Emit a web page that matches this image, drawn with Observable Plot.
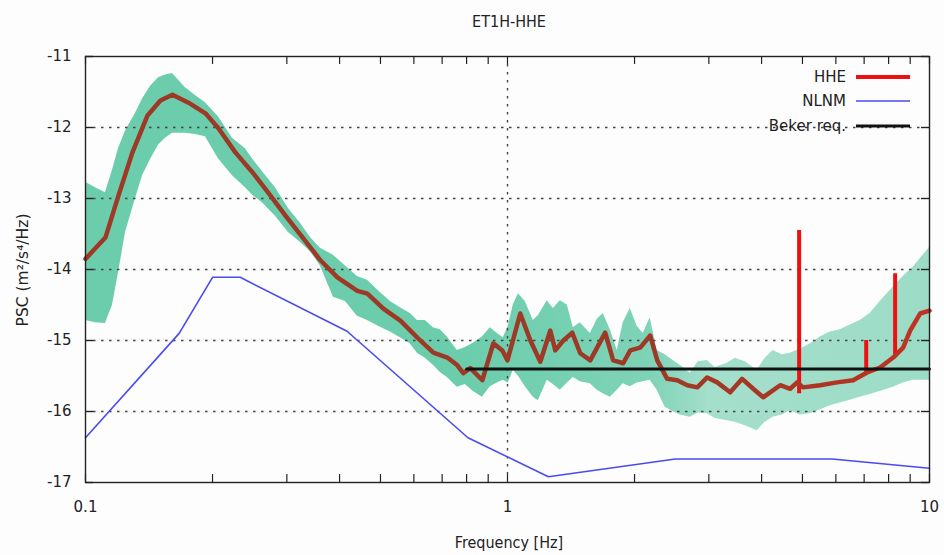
<!DOCTYPE html>
<html>
<head>
<meta charset="utf-8">
<script src="https://cdn.jsdelivr.net/npm/d3@7"></script>
<script src="https://cdn.jsdelivr.net/npm/@observablehq/plot@0.6"></script>
<style>
  html, body { margin: 0; padding: 0; background: #fdfdfd; }
  #chart { width: 944px; height: 555px; }
</style>
</head>
<body>
<div id="chart"></div>
<script>
// ---------- data ----------
const titleText = "ET1H-HHE";
const xLabel = "Frequency [Hz]";
const yLabel = "PSC (m²/s⁴/Hz)";
const yTicks = [-11, -12, -13, -14, -15, -16, -17];
const yGrid = [-12, -13, -14, -15, -16];
const xTicks = [0.1, 1, 10];
const xMinor = [0.2, 0.3, 0.4, 0.5, 0.6, 0.7, 0.8, 0.9, 2, 3, 4, 5, 6, 7, 8, 9];
const xGrid = [1];

// HHE median (brown)
const hheFreq = [0.100, 0.1115, 0.1197, 0.1292, 0.1403, 0.1505, 0.1607, 0.1754, 0.1924, 0.2065,
  0.2265, 0.2485, 0.2713, 0.2977, 0.3320, 0.3603, 0.3953, 0.4407, 0.4655, 0.5079,
  0.5573, 0.6114, 0.6673, 0.7202, 0.7606, 0.7856, 0.8164, 0.8716, 0.9256, 0.9721,
  1.000, 1.072, 1.133, 1.196, 1.263, 1.298, 1.356, 1.424, 1.487, 1.571,
  1.704, 1.780, 1.880, 1.954, 2.063, 2.179, 2.264, 2.390, 2.524, 2.667,
  2.817, 2.973, 3.140, 3.371, 3.598, 3.821, 4.035, 4.428, 4.676, 4.858,
  5.018, 5.506, 6.040, 6.592, 7.116, 7.638, 8.203, 8.660, 8.998, 9.500, 10.0];
const hheValue = [-13.85, -13.55, -12.96, -12.35, -11.83, -11.62, -11.54, -11.65, -11.80, -12.01,
  -12.35, -12.63, -12.92, -13.24, -13.60, -13.87, -14.11, -14.30, -14.34, -14.55,
  -14.72, -14.96, -15.17, -15.24, -15.35, -15.46, -15.39, -15.56, -15.04, -15.14,
  -15.28, -14.62, -15.00, -15.30, -14.86, -15.14, -15.00, -14.89, -15.18, -15.28,
  -14.89, -15.28, -15.32, -15.14, -15.10, -14.93, -15.28, -15.54, -15.56, -15.63,
  -15.66, -15.52, -15.59, -15.73, -15.54, -15.68, -15.80, -15.63, -15.68, -15.59,
  -15.66, -15.63, -15.59, -15.56, -15.45, -15.38, -15.24, -15.10, -14.86, -14.62, -14.58];

// HHE narrow peaks (red)
const spikeFreq = [4.91, 7.08, 8.29];
const spikeBase = [-15.75, -15.46, -15.22];
const spikeTop = [-13.45, -15.00, -14.06];

// spread band (teal)
const bandFreq = [0.1000, 0.1056, 0.1115, 0.1159, 0.1197, 0.1244, 0.1314, 0.1365, 0.1426, 0.1489,
  0.1547, 0.1607, 0.1725, 0.1822, 0.1924, 0.2065, 0.2230, 0.2393, 0.2486, 0.2625,
  0.2819, 0.3026, 0.3231, 0.3412, 0.3603, 0.3868, 0.4130, 0.4409, 0.4657, 0.4943,
  0.5278, 0.5574, 0.5886, 0.6115, 0.6387, 0.6672, 0.6931, 0.7201, 0.7605, 0.7944,
  0.8299, 0.8716, 0.9105, 0.9459, 0.9774, 1.004, 1.032, 1.061, 1.102, 1.151,
  1.183, 1.242, 1.284, 1.334, 1.386, 1.432, 1.487, 1.571, 1.632, 1.686,
  1.752, 1.820, 1.880, 1.954, 2.029, 2.097, 2.178, 2.263, 2.364, 2.469,
  2.565, 2.710, 2.831, 2.973, 3.106, 3.316, 3.464, 3.659, 3.905, 4.080,
  4.261, 4.476, 4.676, 4.938, 5.214, 5.507, 5.815, 6.141, 6.485, 6.848,
  7.232, 7.636, 8.200, 8.660, 9.145, 9.499, 10.0];
const bandHigh = [-12.77, -12.85, -12.92, -12.60, -12.30, -12.05, -11.80, -11.60, -11.42, -11.30,
  -11.26, -11.24, -11.44, -11.55, -11.65, -11.85, -12.15, -12.30, -12.44, -12.62,
  -12.85, -13.14, -13.35, -13.55, -13.70, -13.80, -13.95, -14.10, -14.15, -14.30,
  -14.45, -14.54, -14.62, -14.72, -14.72, -14.82, -14.85, -14.95, -15.14, -15.10,
  -15.04, -14.95, -14.82, -14.90, -14.96, -14.80, -14.50, -14.34, -14.45, -14.72,
  -14.65, -14.44, -14.55, -14.44, -14.50, -14.82, -14.75, -14.90, -14.70, -14.62,
  -14.85, -15.14, -14.75, -14.55, -14.80, -14.90, -14.68, -15.14, -15.20, -15.28,
  -15.35, -15.46, -15.30, -15.28, -15.38, -15.32, -15.25, -15.30, -15.42, -15.25,
  -15.14, -15.20, -15.18, -15.12, -15.05, -14.95, -14.88, -14.85, -14.78, -14.72,
  -14.62, -14.45, -14.25, -14.10, -13.97, -13.85, -13.69];
const bandLow = [-14.72, -14.75, -14.76, -14.50, -14.05, -13.48, -13.00, -12.68, -12.45, -12.25,
  -12.15, -12.08, -12.08, -12.10, -12.13, -12.44, -12.68, -12.85, -12.95, -13.06,
  -13.25, -13.48, -13.62, -13.75, -13.95, -14.39, -14.45, -14.66, -14.72, -14.80,
  -14.88, -14.96, -15.05, -15.18, -15.25, -15.35, -15.45, -15.52, -15.66, -15.62,
  -15.72, -15.80, -15.65, -15.60, -15.56, -15.60, -15.42, -15.50, -15.65, -15.80,
  -15.85, -15.56, -15.62, -15.70, -15.60, -15.52, -15.58, -15.61, -15.70, -15.75,
  -15.80, -15.70, -15.61, -15.65, -15.60, -15.58, -15.56, -15.70, -15.94, -16.00,
  -16.05, -16.08, -16.02, -16.03, -16.10, -16.13, -16.15, -16.20, -16.27, -16.15,
  -16.08, -16.05, -15.99, -16.05, -16.03, -15.98, -15.92, -15.88, -15.84, -15.80,
  -15.76, -15.72, -15.66, -15.60, -15.56, -15.56, -15.56];

// NLNM (blue)
const nlnmFreq = [0.1, 0.1667, 0.2, 0.2326, 0.4167, 0.806, 1.25, 2.5, 5.88, 10];
const nlnmValue = [-16.37, -14.90, -14.11, -14.11, -14.87, -16.37, -16.92, -16.67, -16.67, -16.80];

// Beker requirement (black)
const bekerFreq = [0.8, 10];
const bekerValue = [-15.4, -15.4];

const legendNames = ["HHE", "NLNM", "Beker req."];

// ---------- colours ----------
const cMedian = "#a03a27", cRed = "#ee1010", cBlue = "#4a4af2", cBlack = "#111";

// ---------- build tables ----------
const hhe = hheFreq.map((f, i) => ({f, v: hheValue[i]}));
const spikes = spikeFreq.map((f, i) => ({f, b: spikeBase[i], t: spikeTop[i]}));
const band = bandFreq.map((f, i) => ({f, lo: bandLow[i], hi: bandHigh[i]}));
const nlnm = nlnmFreq.map((f, i) => ({f, v: nlnmValue[i]}));
const beker = bekerFreq.map((f, i) => ({f, v: bekerValue[i]}));

const W = 944, H = 555, mL = 85, mR = 15, mT = 56, mB = 73;
const frameH = H - mT - mB, frameW = W - mL - mR;
const font = "DejaVu Sans, Verdana, sans-serif";

const plot = Plot.plot({
  width: W, height: H,
  marginLeft: mL, marginRight: mR, marginTop: mT, marginBottom: mB,
  style: {background: "transparent", fontFamily: font, fontSize: "15px", color: "#222"},
  x: {type: "log", domain: [0.1, 10]},
  y: {domain: [-17, -11]},
  marks: [
    Plot.areaY(band, {x: "f", y1: "lo", y2: "hi", fill: "url(#bandGrad)", curve: "linear"}),
    Plot.ruleY(yGrid, {stroke: "#444", strokeWidth: 1.4, strokeDasharray: "2.5,5.5", insetLeft: 8, insetRight: 8}),
    Plot.ruleX(xGrid, {stroke: "#444", strokeWidth: 1.4, strokeDasharray: "2.5,5.5", insetTop: 8, insetBottom: 8}),
    Plot.line(nlnm, {x: "f", y: "v", stroke: cBlue, strokeWidth: 1.6}),
    Plot.ruleX(spikes, {x: "f", y1: "b", y2: "t", stroke: cRed, strokeWidth: 4}),
    Plot.line(hhe, {x: "f", y: "v", stroke: "url(#medGrad)", strokeWidth: 4.5, strokeLinejoin: "round"}),
    Plot.line(beker, {x: "f", y: "v", stroke: cBlack, strokeWidth: 3}),
    // inward ticks
    Plot.ruleX(xMinor.concat(xTicks), {stroke: "#222", strokeWidth: 1.2, insetTop: frameH - 8}),
    Plot.ruleX(xMinor.concat(xTicks), {stroke: "#222", strokeWidth: 1.2, insetBottom: frameH - 8}),
    Plot.ruleY(yTicks, {stroke: "#222", strokeWidth: 1.4, insetRight: frameW - 8}),
    Plot.ruleY(yTicks, {stroke: "#222", strokeWidth: 1.4, insetLeft: frameW - 8}),
    Plot.frame({stroke: "#222", strokeWidth: 1.4}),
    Plot.axisY({ticks: yTicks, tickSize: 0, tickPadding: 14, tickFormat: d => String(d), fontSize: 15, label: null}),
    Plot.axisX({ticks: xTicks, tickSize: 0, tickPadding: 19, tickFormat: d => String(d), fontSize: 15, label: null})
  ]
});

const svg = d3.select(plot);
const xs = plot.scale("x");
const pos = f => (xs.apply(f) - mL) / frameW;
const defs = svg.insert("defs", ":first-child");
const g1 = defs.append("linearGradient").attr("id", "bandGrad")
  .attr("gradientUnits", "userSpaceOnUse").attr("x1", mL).attr("x2", W - mR).attr("y1", 0).attr("y2", 0);
[[0, "#6ccdac"], [pos(0.8), "#6ccdac"], [pos(2.2), "#7fd3b7"], [pos(3), "#a4dfcc"], [1, "#9cdcc7"]]
  .forEach(([o, c]) => g1.append("stop").attr("offset", o).attr("stop-color", c));
const g2 = defs.append("linearGradient").attr("id", "medGrad")
  .attr("gradientUnits", "userSpaceOnUse").attr("x1", mL).attr("x2", W - mR).attr("y1", 0).attr("y2", 0);
[[0, "#9c3a27"], [pos(2.2), "#9c3a27"], [pos(6), "#b03422"], [1, "#c03322"]]
  .forEach(([o, c]) => g2.append("stop").attr("offset", o).attr("stop-color", c));

// title
svg.append("text").attr("x", 509).attr("y", 27).attr("text-anchor", "middle")
  .attr("font-family", "DejaVu Sans Condensed, DejaVu Sans, sans-serif").attr("font-size", 16).attr("fill", "#222")
  .text(titleText);
// x label
svg.append("text").attr("x", 509).attr("y", 548).attr("text-anchor", "middle")
  .attr("font-family", "DejaVu Sans Condensed, DejaVu Sans, sans-serif").attr("font-size", 16).attr("fill", "#222")
  .text(xLabel);
// y label
svg.append("text").attr("transform", "translate(28,270) rotate(-90)").attr("text-anchor", "middle")
  .attr("font-family", font).attr("font-size", 15.5).attr("fill", "#222")
  .text(yLabel);
// legend
const legColors = [cRed, cBlue, cBlack], legWidths = [4, 1.6, 3], legY = [77, 101, 126];
legendNames.forEach((n, i) => {
  svg.append("text").attr("x", 846).attr("y", legY[i] + 5).attr("text-anchor", "end")
    .attr("font-family", font).attr("font-size", 15).attr("fill", "#222").text(n);
  svg.append("line").attr("x1", 856).attr("x2", 910).attr("y1", legY[i]).attr("y2", legY[i])
    .attr("stroke", legColors[i]).attr("stroke-width", legWidths[i]);
});

document.getElementById("chart").appendChild(plot);
</script>
</body>
</html>
